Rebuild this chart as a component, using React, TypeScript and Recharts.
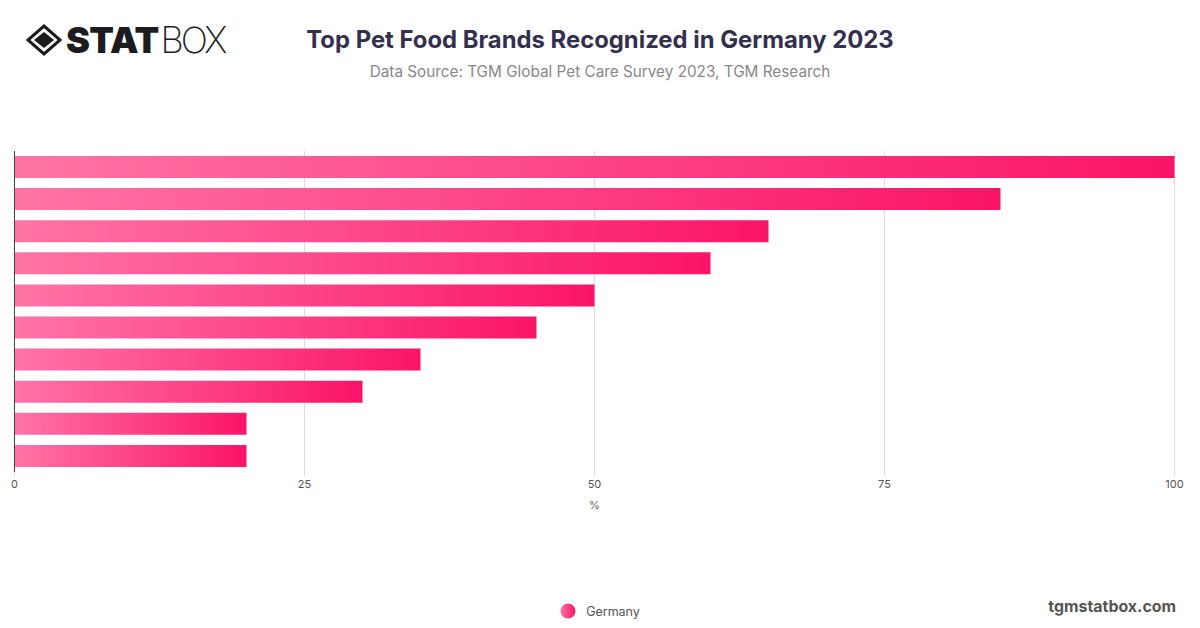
import { BarChart, Bar, XAxis, YAxis, CartesianGrid, Legend } from "recharts";

// brand names are hidden in the picture, only the order is known
const brands = ["Brand 1", "Brand 2", "Brand 3", "Brand 4", "Brand 5", "Brand 6", "Brand 7", "Brand 8", "Brand 9", "Brand 10"];
const germany = [100, 85, 65, 60, 50, 45, 35, 30, 20, 20];
const xTicks = [0, 25, 50, 75, 100];

const chartData = brands.map((brand, i) => ({ brand, Germany: germany[i] }));

const FONT = "Inter, sans-serif";

function Logo() {
  return (
    <div style={{ position: "absolute", left: 26, top: 22, width: 210, height: 36, display: "flex", alignItems: "center" }}>
      <svg width="36" height="32" viewBox="0 0 36 32">
        <path d="M18 2 L34 16 L18 30 L2 16 Z" fill="none" stroke="#1c1c1e" strokeWidth="3" />
        <path d="M18 8 L28 16 L18 24 L8 16 Z" fill="#1c1c1e" />
      </svg>
      <span style={{ fontFamily: FONT, fontSize: 36, fontWeight: 900, color: "#1c1c1e", marginLeft: 4, letterSpacing: -0.7 }}>STAT</span>
      <span style={{ fontFamily: FONT, fontSize: 36, fontWeight: 200, color: "#1c1c1e", marginLeft: 2, letterSpacing: -3 }}>BOX</span>
    </div>
  );
}

function LegendContent() {
  return (
    <div style={{ display: "flex", justifyContent: "center", alignItems: "center", fontFamily: FONT, fontSize: 12.5, color: "#555", paddingLeft: 12 }}>
      <svg width="16" height="16" style={{ marginRight: 10 }}>
        <defs>
          <linearGradient id="dotFill" x1="0" y1="0" x2="1" y2="0">
            <stop offset="0%" stopColor="#ff74a5" />
            <stop offset="100%" stopColor="#fa1467" />
          </linearGradient>
        </defs>
        <circle cx="8" cy="8" r="7.5" fill="url(#dotFill)" />
      </svg>
      Germany
    </div>
  );
}

export default function App() {
  return (
    <div style={{ position: "absolute", left: 0, top: 0, width: 1200, height: 628, background: "#fff", overflow: "hidden" }}>
      <Logo />
      <div style={{ position: "absolute", left: 0, width: 1200, top: 25, textAlign: "center", fontFamily: FONT, fontSize: 23.85, fontWeight: 700, color: "#33304f" }}>
        Top Pet Food Brands Recognized in Germany 2023
      </div>
      <div style={{ position: "absolute", left: 0, width: 1200, top: 62, textAlign: "center", fontFamily: FONT, fontSize: 15.3, color: "#888" }}>
        Data Source: TGM Global Pet Care Survey 2023, TGM Research
      </div>
      <BarChart
        width={1200}
        height={628}
        data={chartData}
        layout="vertical"
        barCategoryGap={5}
        margin={{ top: 151, right: 25.5, bottom: 0, left: 13.5 }}
      >
        <defs>
          <linearGradient id="barFill" x1="0" y1="0" x2="1" y2="0">
            <stop offset="0%" stopColor="#ff74a5" />
            <stop offset="100%" stopColor="#fa1467" />
          </linearGradient>
        </defs>
        <CartesianGrid horizontal={false} stroke="#dddddd" />
        <XAxis
          type="number"
          domain={[0, 100]}
          ticks={xTicks}
          height={140}
          axisLine={false}
          tickLine={{ stroke: "#dddddd" }}
          tickSize={4}
          tickMargin={4}
          tick={{ fontSize: 11, fill: "#555", fontFamily: FONT }}
          label={{ value: "%", position: "insideTop", dy: 24, fontSize: 11, fill: "#666", fontFamily: FONT }}
        />
        <YAxis type="category" dataKey="brand" width={1} tick={false} axisLine={{ stroke: "#444" }} tickLine={false} />
        <Legend verticalAlign="bottom" content={<LegendContent />} wrapperStyle={{ bottom: 9 }} />
        <Bar dataKey="Germany" fill="url(#barFill)" isAnimationActive={false} />
      </BarChart>
      <div style={{ position: "absolute", right: 24, top: 597, fontFamily: FONT, fontSize: 15.9, fontWeight: 700, color: "#555" }}>
        tgmstatbox.com
      </div>
    </div>
  );
}
